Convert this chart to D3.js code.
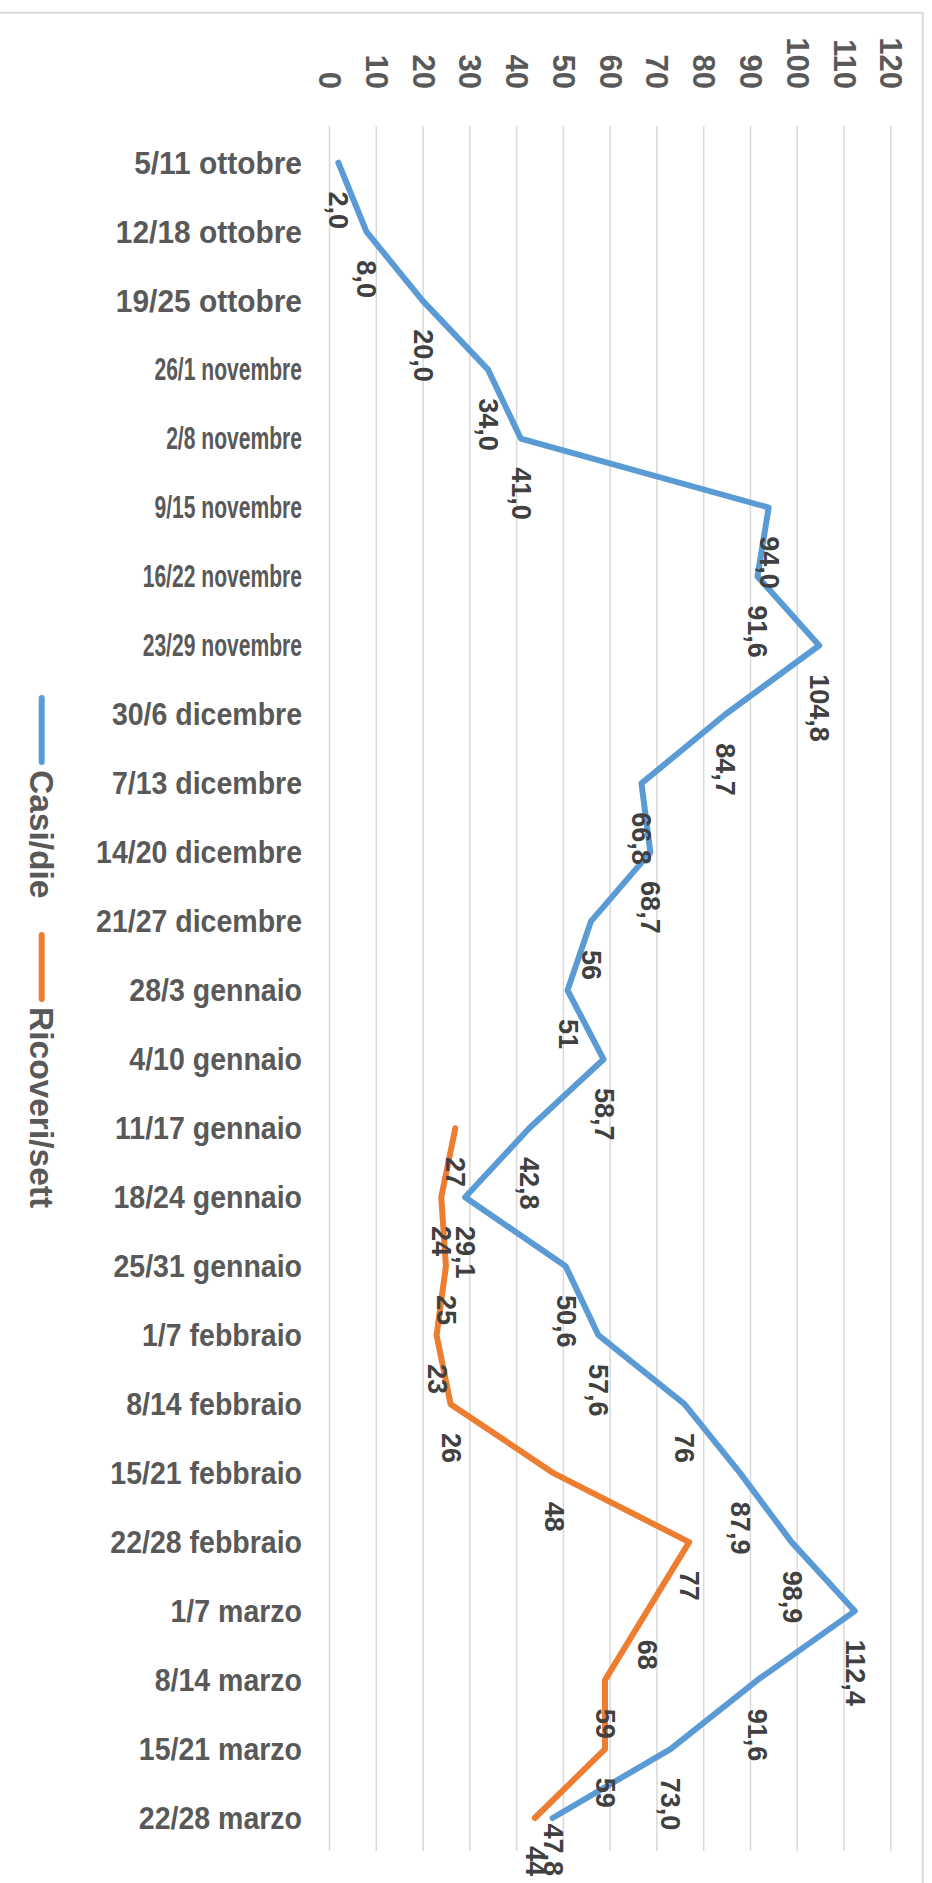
<!DOCTYPE html>
<html lang="it">
<head>
    <meta charset="UTF-8">
    <title>Casi/die e Ricoveri/sett</title>
    <script src="https://cdn.jsdelivr.net/npm/d3@7"></script>
    <style>
        body { margin: 0; background: #fff; }
        svg { display: block; font-family: "Liberation Sans", Arial, sans-serif; font-weight: bold; }
    </style>
</head>
<body>
    <svg width="932" height="1883"></svg>
    <script>
        const width = 932;
        const height = 1883;

        const settimane = [
            '5/11 ottobre', '12/18 ottobre', '19/25 ottobre', '26/1 novembre', '2/8 novembre',
            '9/15 novembre', '16/22 novembre', '23/29 novembre', '30/6 dicembre', '7/13 dicembre',
            '14/20 dicembre', '21/27 dicembre', '28/3 gennaio', '4/10 gennaio', '11/17 gennaio',
            '18/24 gennaio', '25/31 gennaio', '1/7 febbraio', '8/14 febbraio', '15/21 febbraio',
            '22/28 febbraio', '1/7 marzo', '8/14 marzo', '15/21 marzo', '22/28 marzo'
        ];
        const casiDie = [2.0, 8.0, 20.0, 34.0, 41.0, 94.0, 91.6, 104.8, 84.7, 66.8, 68.7, 56, 51,
            58.7, 42.8, 29.1, 50.6, 57.6, 76, 87.9, 98.9, 112.4, 91.6, 73.0, 47.8];
        // decimali mostrati nelle etichette (alcune celle erano intere)
        const casiDecimali = [1, 1, 1, 1, 1, 1, 1, 1, 1, 1, 1, 0, 0,
            1, 1, 1, 1, 1, 0, 1, 1, 1, 1, 1, 1];
        const ricoveriSett = [null, null, null, null, null, null, null, null, null, null, null, null, null,
            null, 27, 24, 25, 23, 26, 48, 77, 68, 59, 59, 44];
        const valoriTick = [0, 10, 20, 30, 40, 50, 60, 70, 80, 90, 100, 110, 120];

        const serie = [
            {name: 'Casi/die', color: '#5b9bd5', values: casiDie, dec: casiDecimali},
            {name: 'Ricoveri/sett', color: '#ed7d31', values: ricoveriSett, dec: null}
        ];

        // larghezza del testo delle etichette di categoria (nell'originale non è uniforme)
        const stretta = {ottobre: 0.965, novembre: 0.68};
        const strettaDi = c => stretta[c.split(' ')[1]] || 0.92;

        const it = d3.formatLocale({decimal: ',', thousands: '.', grouping: [3], currency: ['', '€']});

        const x = d3.scaleLinear().domain([0, 120]).range([329, 890.3]);
        const y = d3.scaleBand().domain(settimane).range([128.2, 1852.5]);
        const yc = c => y(c) + y.bandwidth() / 2;

        const svg = d3.select('svg');

        // cornice dell'area grafico
        svg.append('rect')
            .attr('x', -10).attr('y', 12.7)
            .attr('width', 922.7 + 10).attr('height', height + 20)
            .attr('fill', 'none').attr('stroke', '#d9d9d9').attr('stroke-width', 2);

        // griglia
        svg.append('g')
            .attr('transform', 'translate(0,126)')
            .call(d3.axisBottom(x).tickValues(valoriTick).tickSize(1851 - 126).tickFormat(''))
            .call(g => g.select('.domain').remove())
            .call(g => g.selectAll('line').attr('stroke', '#d9d9d9').attr('stroke-width', 1.5));

        // etichette valori (in alto, ruotate)
        svg.append('g')
            .call(d3.axisTop(x).tickValues(valoriTick).tickSize(0))
            .call(g => g.select('.domain').remove())
            .call(g => g.selectAll('text')
                .attr('x', 0).attr('y', 0).attr('dy', null)
                .attr('transform', 'translate(0,89) rotate(90)')
                .attr('text-anchor', 'end')
                .attr('dominant-baseline', 'central')
                .attr('fill', '#595959')
                .style('font-size', '31px')
                .style('font-family', 'inherit')
                .style('font-weight', 'bold'));

        // etichette categorie
        svg.append('g')
            .attr('transform', `translate(${x(0)},0)`)
            .call(d3.axisLeft(y).tickSize(0))
            .call(g => g.select('.domain').remove())
            .call(g => g.selectAll('text')
                .attr('x', 0).attr('dy', null)
                .attr('transform', d => `translate(-27,0) scale(${strettaDi(d)},1)`)
                .attr('text-anchor', 'end')
                .attr('dominant-baseline', 'central')
                .attr('fill', '#595959')
                .style('font-size', '31px')
                .style('font-family', 'inherit')
                .style('font-weight', 'bold'));

        // linee
        const line = d3.line()
            .defined(d => d.v != null)
            .x(d => x(d.v))
            .y(d => yc(d.c));

        serie.forEach(s => {
            const pts = s.values.map((v, i) => ({v, c: settimane[i]}));
            svg.append('path')
                .datum(pts)
                .attr('d', line)
                .attr('fill', 'none')
                .attr('stroke', s.color)
                .attr('stroke-width', 6)
                .attr('stroke-linejoin', 'round')
                .attr('stroke-linecap', 'round');
        });

        // etichette dati
        serie.forEach(s => {
            const pts = s.values.map((v, i) => ({v, c: settimane[i], dec: s.dec ? s.dec[i] : 0}))
                .filter(d => d.v != null);
            const lab = svg.append('g').selectAll('text').data(pts).join('text')
                .text(d => it.format(`.${d.dec}f`)(d.v))
                .attr('text-anchor', 'start')
                .attr('dominant-baseline', 'central')
                .attr('fill', '#404040')
                .style('font-size', '27px');
            lab.attr('transform', function(d) {
                const len = this.getComputedTextLength();
                const start = Math.min(yc(d.c) + 28.7, 1876 - len);
                return `translate(${x(d.v)},${start}) rotate(90)`;
            });
        });

        // legenda
        const leg = svg.append('g').selectAll('g').data(serie).join('g')
            .attr('transform', (d, i) => `translate(41.7,${[698, 935][i]})`);
        leg.append('line')
            .attr('x1', 0).attr('x2', 0).attr('y1', 0).attr('y2', 64)
            .attr('stroke', d => d.color).attr('stroke-width', 6).attr('stroke-linecap', 'round');
        leg.append('text')
            .text(d => d.name)
            .attr('transform', 'translate(0,72) rotate(90)')
            .attr('dominant-baseline', 'central')
            .attr('fill', '#595959')
            .style('font-size', '33.5px');
    </script>
</body>
</html>
